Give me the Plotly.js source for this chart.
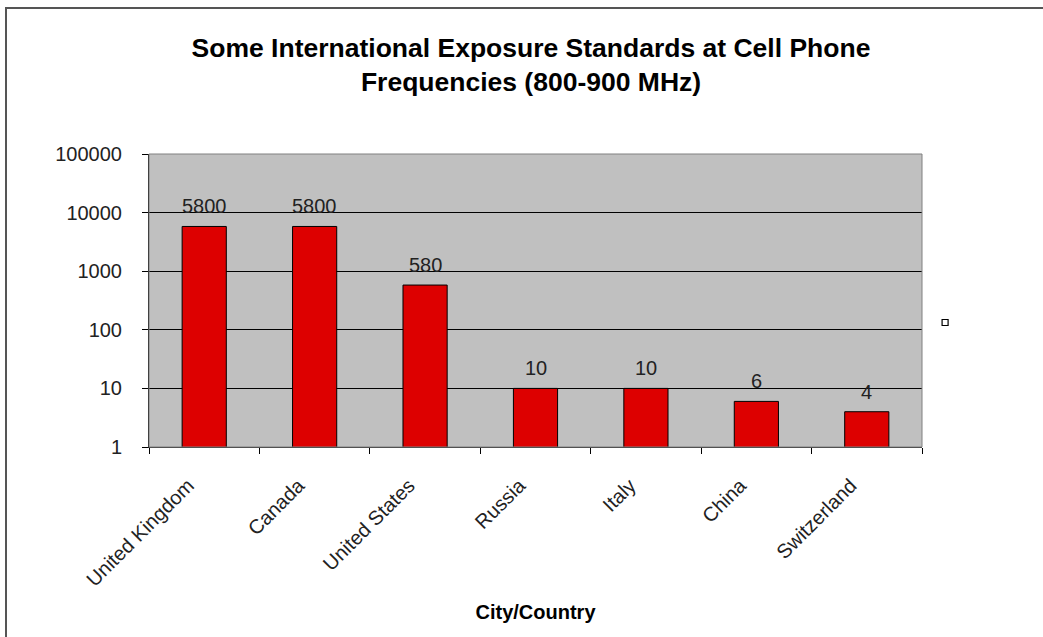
<!DOCTYPE html>
<html>
<head>
<meta charset="utf-8">
<script src="https://cdn.plot.ly/plotly-3.0.1.min.js"></script>
<style>
html,body{margin:0;padding:0;background:#fff;overflow:hidden;}
#chart{width:1043px;height:637px;position:absolute;left:0;top:0;}
#frame{position:absolute;left:5px;top:7px;width:1100px;height:700px;border-top:2px solid #555;border-left:2px solid #555;pointer-events:none;}
</style>
</head>
<body>
<div id="chart"></div>
<div id="frame"></div>
<script>
const categories = ["United Kingdom", "Canada", "United States", "Russia", "Italy", "China", "Switzerland"];
const values = [5800, 5800, 580, 10, 10, 6, 4];
const yTickVals = [1, 10, 100, 1000, 10000, 100000];
const yTickText = ["1", "10", "100", "1000", "10000", "100000"];

const FONT = "Liberation Sans, Arial, sans-serif";

const traces = [
  {
    type: "bar",
    x: categories,
    y: values,
    marker: {color: "#dd0000", line: {color: "#000", width: 1}},
    showlegend: false,
    hoverinfo: "x+y"
  },
  {
    type: "scatter",
    mode: "markers",
    x: [null],
    y: [null],
    name: "",
    marker: {symbol: "square-open", size: 6, color: "#000", line: {width: 1.2}},
    showlegend: true,
    hoverinfo: "skip"
  }
];

const annotations = categories.map((c, i) => ({
  x: c,
  y: Math.log10(values[i]),
  xref: "x",
  yref: "y",
  text: String(values[i]),
  showarrow: false,
  yanchor: "bottom",
  yshift: 7,
  font: {family: FONT, size: 20, color: "#222"}
}));

const layout = {
  width: 1043,
  height: 637,
  paper_bgcolor: "#fff",
  plot_bgcolor: "#c0c0c0",
  margin: {l: 149, r: 121, t: 154, b: 190},
  bargap: 0.6,
  title: {
    text: "<b>Some International Exposure Standards at Cell Phone<br>Frequencies (800-900 MHz)</b>",
    font: {family: FONT, size: 26.5, color: "#000"},
    x: 531 / 1043,
    xanchor: "center",
    y: 1 - 57 / 637,
    yanchor: "middle"
  },
  xaxis: {
    type: "category",
    tickangle: -45,
    ticks: "outside",
    tickson: "boundaries",
    ticklen: 6,
    tickcolor: "#000",
    ticklabelstandoff: 18,
    ticklabelshift: -16,
    tickfont: {family: FONT, size: 20, color: "#222"},
    showline: true,
    linecolor: "#222",
    linewidth: 1,
    showgrid: false,
    zeroline: false,
    title: {text: "<b>City/Country</b>", font: {family: FONT, size: 20, color: "#000"}, standoff: 15}
  },
  yaxis: {
    type: "log",
    range: [0, 5],
    tickvals: yTickVals,
    ticktext: yTickText,
    ticks: "outside",
    ticklen: 6,
    tickcolor: "#000",
    ticklabelstandoff: 16,
    tickfont: {family: FONT, size: 20, color: "#222"},
    showline: true,
    linecolor: "#000",
    linewidth: 1,
    showgrid: true,
    gridcolor: "#000",
    gridwidth: 1,
    zeroline: false
  },
  legend: {
    x: 1.004, y: 0.425, xanchor: "left", yanchor: "middle",
    bgcolor: "rgba(0,0,0,0)",
    font: {family: FONT, size: 12},
    itemwidth: 30
  },
  annotations: annotations,
  shapes: [
    {type: "rect", xref: "paper", yref: "paper", x0: 0, x1: 1, y0: 0, y1: 1,
     line: {color: "#808080", width: 1}, layer: "above"}
  ]
};

Plotly.newPlot("chart", traces, layout, {displayModeBar: false, staticPlot: true});
</script>
</body>
</html>
